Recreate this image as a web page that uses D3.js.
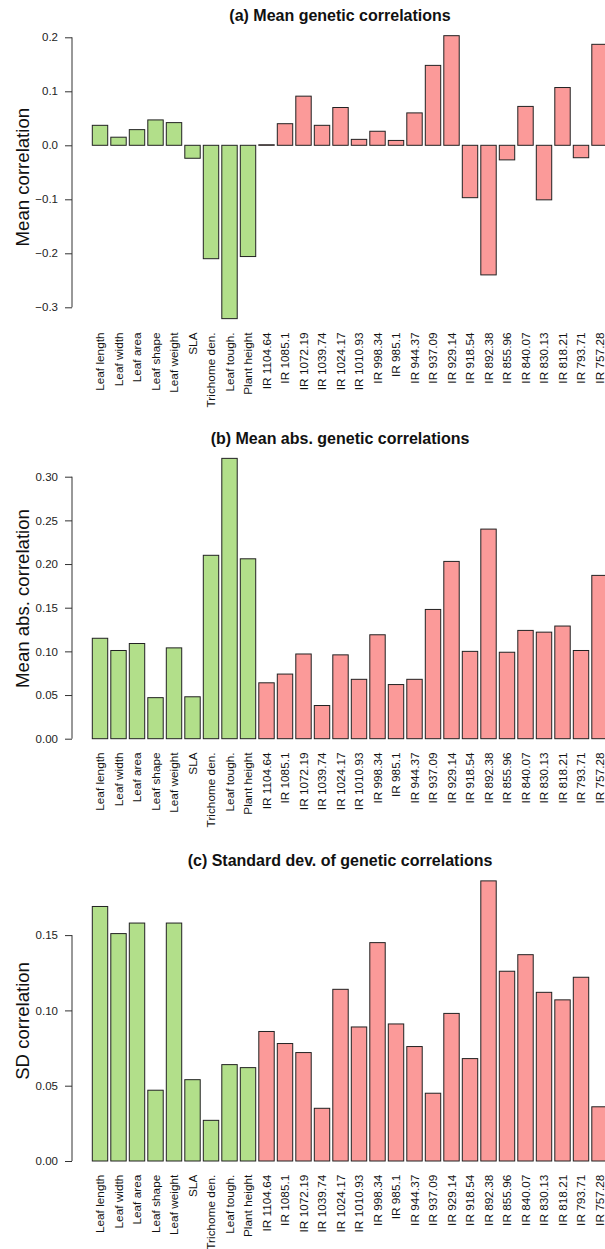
<!DOCTYPE html>
<html>
<head>
<meta charset="utf-8">
<script src="https://cdn.jsdelivr.net/npm/d3@7"></script>
<style>
  body { margin: 0; background: #fff; }
  svg { display: block; font-family: "Liberation Sans", Arial, sans-serif; }
</style>
</head>
<body>
<svg id="drawing_region"></svg>
<script>
// trait / IR band names (x axis)
const categories = [
  "Leaf length", "Leaf width", "Leaf area", "Leaf shape", "Leaf weight", "SLA",
  "Trichome den.", "Leaf tough.", "Plant height",
  "IR 1104.64", "IR 1085.1", "IR 1072.19", "IR 1039.74", "IR 1024.17", "IR 1010.93",
  "IR 998.34", "IR 985.1", "IR 944.37", "IR 937.09", "IR 929.14", "IR 918.54",
  "IR 892.38", "IR 855.96", "IR 840.07", "IR 830.13", "IR 818.21", "IR 793.71", "IR 757.28"
];
const nTraits = 9;   // first 9 are leaf traits, rest are IR bands

const meanCorr = [
  0.037, 0.015, 0.029, 0.047, 0.042, -0.024, -0.210, -0.321, -0.206,
  0.001, 0.040, 0.091, 0.037, 0.070, 0.011, 0.026, 0.009, 0.060, 0.148,
  0.203, -0.097, -0.240, -0.027, 0.072, -0.101, 0.107, -0.023, 0.187
];
const meanAbsCorr = [
  0.115, 0.101, 0.109, 0.047, 0.104, 0.048, 0.210, 0.321, 0.206,
  0.064, 0.074, 0.097, 0.038, 0.096, 0.068, 0.119, 0.062, 0.068, 0.148,
  0.203, 0.100, 0.240, 0.099, 0.124, 0.122, 0.129, 0.101, 0.187
];
const sdCorr = [
  0.169, 0.151, 0.158, 0.047, 0.158, 0.054, 0.027, 0.064, 0.062,
  0.086, 0.078, 0.072, 0.035, 0.114, 0.089, 0.145, 0.091, 0.076, 0.045,
  0.098, 0.068, 0.186, 0.126, 0.137, 0.112, 0.107, 0.122, 0.036
];

const ticksA = [-0.3, -0.2, -0.1, 0.0, 0.1, 0.2];
const ticksB = [0.00, 0.05, 0.10, 0.15, 0.20, 0.25, 0.30];
const ticksC = [0.00, 0.05, 0.10, 0.15];

const traitColor = "#b2df8a";
const bandColor = "#fb9a99";

class BarPanel {
  constructor(svg, config, values) {
    this.svg = svg;
    this.config = config;
    this.values = values;
    this.init();
  }

  init() {
    let self = this;
    let c = self.config;

    self.xscale = d3.scaleBand()
      .domain(categories)
      .range([90.76, 608.76])
      .paddingInner(1 / 6)
      .paddingOuter(1 / 12);

    self.yscale = d3.scaleLinear()
      .domain(c.domain)
      .range(c.range);

    // plot region like R (data range padded by 4%)
    let lo = Math.min(0, d3.min(self.values)), hi = Math.max(0, d3.max(self.values));
    let pad = (hi - lo) * 0.04;
    self.regionTop = self.yscale(hi + pad);
    self.regionBottom = self.yscale(lo - pad);

    self.g = self.svg.append('g');
  }

  render() {
    let self = this;
    let c = self.config;

    // title
    self.g.append('text')
      .attr('x', 340)
      .attr('y', self.regionTop - 3.3)
      .attr('text-anchor', 'middle')
      .attr('font-size', '16px')
      .attr('font-weight', 'bold')
      .attr('fill', '#111')
      .text(c.title);

    // y axis
    let yaxis = d3.axisLeft(self.yscale)
      .tickValues(c.ticks)
      .tickSize(7)
      .tickPadding(7)
      .tickFormat(d3.format(c.fmt));

    let ax = self.g.append('g')
      .attr('transform', 'translate(72,0)')
      .call(yaxis);
    ax.select('.domain')
      .attr('d', `M0,${self.yscale(c.ticks[0])}V${self.yscale(c.ticks[c.ticks.length - 1])}`)
      .attr('stroke', '#333');
    ax.selectAll('.tick line').attr('stroke', '#333');
    ax.selectAll('.tick text')
      .attr('font-size', '11.5px')
      .attr('font-family', '"Liberation Sans", Arial, sans-serif')
      .attr('fill', '#222');

    // y label
    self.g.append('text')
      .attr('transform', `translate(29, ${(self.regionTop + self.regionBottom) / 2}) rotate(-90)`)
      .attr('text-anchor', 'middle')
      .attr('font-size', '18.6px')
      .attr('fill', '#111')
      .text(c.ylab);

    // bars
    self.g.selectAll('.bar')
      .data(self.values)
      .join('rect')
      .attr('class', 'bar')
      .attr('x', (d, i) => self.xscale(categories[i]))
      .attr('width', self.xscale.bandwidth())
      .attr('y', d => self.yscale(Math.max(0, d)))
      .attr('height', d => Math.abs(self.yscale(d) - self.yscale(0)))
      .attr('fill', (d, i) => i < nTraits ? traitColor : bandColor)
      .attr('stroke', '#222')
      .attr('stroke-width', 1);

    // rotated category labels
    self.g.selectAll('.xlab')
      .data(categories)
      .join('text')
      .attr('class', 'xlab')
      .attr('transform', d => `translate(${self.xscale(d) + self.xscale.bandwidth() / 2}, ${self.regionBottom + 2.5}) rotate(-90)`)
      .attr('dy', '0.35em')
      .attr('text-anchor', 'end')
      .attr('font-size', '11.8px')
      .attr('fill', '#111')
      .text(d => d);
  }
}

const svg = d3.select('#drawing_region')
  .attr('width', 605)
  .attr('height', 1249);

svg.append('rect').attr('width', 605).attr('height', 1249).attr('fill', '#fff');

let panelA = new BarPanel(svg, {
  title: "(a) Mean genetic correlations",
  ylab: "Mean correlation",
  domain: [-0.3, 0.2], range: [307.3, 37.3],
  ticks: ticksA, fmt: ".1f"
}, meanCorr);
panelA.render();

let panelB = new BarPanel(svg, {
  title: "(b) Mean abs. genetic correlations",
  ylab: "Mean abs. correlation",
  domain: [0, 0.3], range: [738.7, 476.7],
  ticks: ticksB, fmt: ".2f"
}, meanAbsCorr);
panelB.render();

let panelC = new BarPanel(svg, {
  title: "(c) Standard dev. of genetic correlations",
  ylab: "SD correlation",
  domain: [0, 0.15], range: [1161, 935.1],
  ticks: ticksC, fmt: ".2f"
}, sdCorr);
panelC.render();
</script>
</body>
</html>
